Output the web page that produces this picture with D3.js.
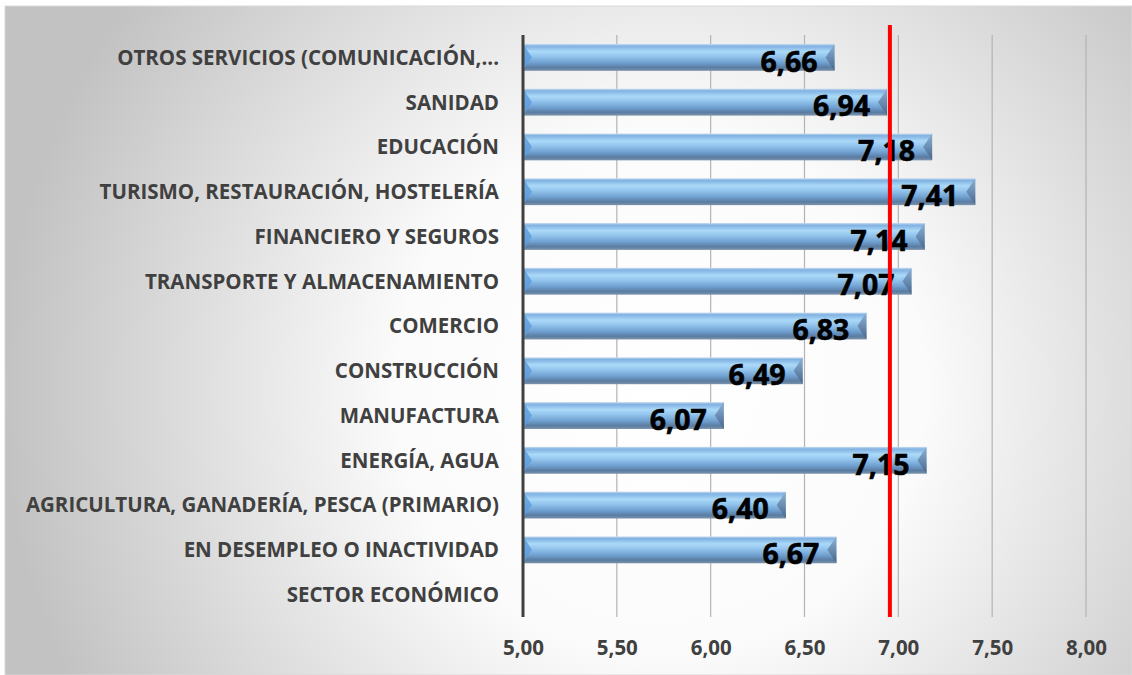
<!DOCTYPE html>
<html>
<head>
<meta charset="utf-8">
<style>
     body {
          margin: 0;
          background: #ffffff;
     }
     svg {
          display: block;
     }
     .cat-label {
          font-family: "Open Sans", sans-serif;
          font-weight: 700;
          font-size: 20.5px;
          fill: #404040;
          text-anchor: end;
     }
     .val-label {
          font-family: "Open Sans", sans-serif;
          font-weight: 700;
          font-size: 28.5px;
          fill: #000000;
          stroke: #000000;
          stroke-width: 0.6px;
          text-anchor: end;
     }
     .x.axis text {
          font-family: "Open Sans", sans-serif;
          font-weight: 700;
          font-size: 20.5px;
          fill: #404040;
     }
     .x.axis path, .x.axis line {
          display: none;
     }
     .grid line {
          stroke: #b3b3b3;
          stroke-width: 1.2;
     }
</style>
</head>
<body>
<script src="https://cdn.jsdelivr.net/npm/d3@7"></script>
<script>

     // categories from top to bottom
     var categories = [
          "OTROS SERVICIOS (COMUNICACIÓN,...",
          "SANIDAD",
          "EDUCACIÓN",
          "TURISMO, RESTAURACIÓN, HOSTELERÍA",
          "FINANCIERO Y SEGUROS",
          "TRANSPORTE Y ALMACENAMIENTO",
          "COMERCIO",
          "CONSTRUCCIÓN",
          "MANUFACTURA",
          "ENERGÍA, AGUA",
          "AGRICULTURA, GANADERÍA, PESCA (PRIMARIO)",
          "EN DESEMPLEO O INACTIVIDAD",
          "SECTOR ECONÓMICO"
     ];

     // null = no bar
     var values = [6.66, 6.94, 7.18, 7.41, 7.14, 7.07, 6.83, 6.49, 6.07, 7.15, 6.40, 6.67, null];

     var tickValues = [5.00, 5.50, 6.00, 6.50, 7.00, 7.50, 8.00];

     var meanValue = 6.955;

     var W = 1132, H = 675;

     var margin = {top: 35, right: 46, bottom: 58, left: 523},
          width = W - margin.left - margin.right,
          height = H - margin.top - margin.bottom;

     var svg = d3.select("body").append("svg")
          .attr("width", W)
          .attr("height", H);

     var defs = svg.append("defs");

     var bg = defs.append("radialGradient")
          .attr("id", "bg")
          .attr("gradientUnits", "userSpaceOnUse")
          .attr("cx", 660).attr("cy", 390).attr("r", 660);
     bg.append("stop").attr("offset", "0").attr("stop-color", "#ffffff");
     bg.append("stop").attr("offset", "0.4").attr("stop-color", "#fbfbfb");
     bg.append("stop").attr("offset", "1").attr("stop-color", "#c2c2c2");

     var barGrad = defs.append("linearGradient")
          .attr("id", "barGrad")
          .attr("x1", 0).attr("y1", 0).attr("x2", 0).attr("y2", 1);
     [["0", "#c9dcef"], ["0.08", "#80b1e2"], ["0.28", "#abd9f8"], ["0.45", "#95c6ee"],
      ["0.7", "#70a0d0"], ["0.88", "#5a7ca2"], ["1", "#7c93ab"]].forEach(function(s) {
          barGrad.append("stop").attr("offset", s[0]).attr("stop-color", s[1]);
     });

     var endGrad = defs.append("linearGradient")
          .attr("id", "endGrad")
          .attr("x1", 0).attr("y1", 0).attr("x2", 0).attr("y2", 1);
     endGrad.append("stop").attr("offset", "0").attr("stop-color", "#8fb0d0");
     endGrad.append("stop").attr("offset", "0.5").attr("stop-color", "#6a8db3");
     endGrad.append("stop").attr("offset", "1").attr("stop-color", "#4a6584");

     // chart background
     svg.append("rect")
          .attr("x", 5).attr("y", 6)
          .attr("width", W - 5).attr("height", H - 6)
          .attr("fill", "url(#bg)")
          .attr("stroke", "#d9d9d9")
          .attr("stroke-width", 1);

     var x = d3.scaleLinear()
          .domain([5, 8])
          .range([0, width]);

     var y = d3.scaleBand()
          .domain(categories)
          .range([0, height])
          .paddingInner(0.4)
          .paddingOuter(0.2);

     var g = svg.append("g")
          .attr("transform", "translate(" + margin.left + "," + margin.top + ")");

     // grid lines
     g.append("g")
          .attr("class", "grid")
          .selectAll("line")
          .data(tickValues.slice(1))
       .enter().append("line")
          .attr("x1", function(d) { return x(d); })
          .attr("x2", function(d) { return x(d); })
          .attr("y1", 0)
          .attr("y2", height);

     var data = categories.map(function(c, i) { return {cat: c, value: values[i]}; })
          .filter(function(d) { return d.value != null; });

     var bars = g.selectAll(".bar")
          .data(data)
       .enter().append("g")
          .attr("class", "bar");

     var bev = 9;

     bars.append("rect")
          .attr("x", 0)
          .attr("y", function(d) { return y(d.cat); })
          .attr("width", function(d) { return x(d.value); })
          .attr("height", y.bandwidth())
          .attr("fill", "url(#barGrad)");

     // left bevel
     bars.append("path")
          .attr("d", function(d) {
               var t = y(d.cat), b = t + y.bandwidth(), m = t + y.bandwidth() / 2;
               return "M0," + t + "L" + bev + "," + m + "L0," + b + "Z";
          })
          .attr("fill", "#5f9fdc")
          .attr("opacity", 0.85);

     // right bevel
     bars.append("path")
          .attr("d", function(d) {
               var t = y(d.cat), b = t + y.bandwidth(), m = t + y.bandwidth() / 2, xe = x(d.value);
               return "M" + xe + "," + t + "L" + (xe - bev) + "," + m + "L" + xe + "," + b + "Z";
          })
          .attr("fill", "url(#endGrad)");

     bars.append("text")
          .attr("class", "val-label")
          .attr("x", function(d) { return x(d.value) - 17; })
          .attr("y", function(d) { return y(d.cat) + y.bandwidth() / 2; })
          .attr("dy", "0.5em")
          .text(function(d) { return d3.format(".2f")(d.value).replace(".", ","); });

     // category labels
     g.append("g")
          .selectAll("text")
          .data(categories)
       .enter().append("text")
          .attr("class", "cat-label")
          .attr("x", -24)
          .attr("y", function(d) { return y(d) + y.bandwidth() / 2; })
          .attr("dy", "0.36em")
          .text(function(d) { return d; });

     // x axis
     var xAxis = d3.axisBottom(x)
          .tickValues(tickValues)
          .tickSize(0)
          .tickPadding(23)
          .tickFormat(function(d) { return d3.format(".2f")(d).replace(".", ","); });

     g.append("g")
          .attr("class", "x axis")
          .attr("transform", "translate(0," + height + ")")
          .call(xAxis);

     // vertical axis line
     g.append("line")
          .attr("x1", 0).attr("x2", 0)
          .attr("y1", 0).attr("y2", height)
          .attr("stroke", "#404040")
          .attr("stroke-width", 3);

     // mean line
     g.append("line")
          .attr("x1", x(meanValue)).attr("x2", x(meanValue))
          .attr("y1", -10).attr("y2", height)
          .attr("stroke", "#ff0000")
          .attr("stroke-width", 4);

</script>
</body>
</html>
